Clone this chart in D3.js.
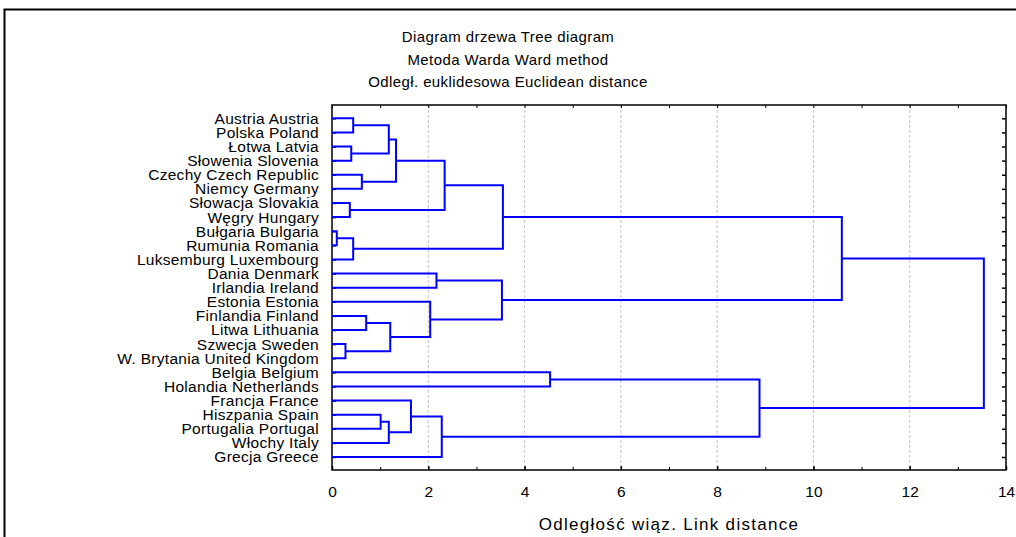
<!DOCTYPE html>
<html>
<head>
<meta charset="utf-8">
<script src="https://cdn.jsdelivr.net/npm/d3@7"></script>
<style>
  body { margin: 0; background: #fff; }
  svg { display: block; font-family: "Liberation Sans", Arial, sans-serif; }
</style>
</head>
<body>
<div class="chart"></div>
<script>
// leaves, top to bottom
var leaves = [
    'Austria Austria', 'Polska Poland', 'Łotwa Latvia', 'Słowenia Slovenia',
    'Czechy Czech Republic', 'Niemcy Germany', 'Słowacja Slovakia', 'Węgry Hungary',
    'Bułgaria Bulgaria', 'Rumunia Romania', 'Luksemburg Luxembourg', 'Dania Denmark',
    'Irlandia Ireland', 'Estonia Estonia', 'Finlandia Finland', 'Litwa Lithuania',
    'Szwecja Sweden', 'W. Brytania United Kingdom', 'Belgia Belgium', 'Holandia Netherlands',
    'Francja France', 'Hiszpania Spain', 'Portugalia Portugal', 'Włochy Italy', 'Grecja Greece'
];

// linkage: cluster 25 + i joins mergeA[i] and mergeB[i] at mergeHeight[i]
var mergeA = [8, 16, 6, 2, 0, 25, 4, 14, 21, 29, 33, 32, 34, 20, 13, 11, 38, 37, 40, 42, 18, 45, 44, 47];
var mergeB = [9, 17, 7, 3, 1, 10, 5, 15, 22, 28, 23, 26, 31, 35, 36, 12, 24, 27, 39, 30, 19, 41, 43, 46];
var mergeHeight = [0.10, 0.28, 0.37, 0.40, 0.44, 0.44, 0.62, 0.71, 1.01, 1.18, 1.18, 1.21, 1.33,
    1.64, 2.04, 2.17, 2.28, 2.34, 3.53, 3.55, 4.53, 8.88, 10.59, 13.54];

var titleLines = ['Diagram drzewa Tree diagram', 'Metoda Warda Ward method', 'Odległ. euklidesowa Euclidean distance'];
var xTicks = [0, 2, 4, 6, 8, 10, 12, 14];
var xMinorTicks = d3.range(0, 15, 1);
var xLabel = 'Odległość wiąz. Link distance';

var svgWidth = 1016;
var svgHeight = 537;
var plotLeft = 332, plotRight = 1006, plotTop = 105, plotBottom = 470;
var fontFamily = '"Liberation Sans", Arial, sans-serif';

var svg = d3.select('.chart').append('svg')
    .attr('width', svgWidth).attr('height', svgHeight);

// outer frame
svg.append('rect')
    .attr('x', 4.5).attr('y', 9.5)
    .attr('width', 1030).attr('height', 560)
    .attr('fill', 'none').attr('stroke', '#000').attr('stroke-width', 2);

svg.selectAll('text.title')
    .data(titleLines)
    .enter()
    .append('text')
    .attr('class', 'title')
    .attr('x', 508)
    .attr('y', function(d, i) { return 42 + i * 22.5; })
    .attr('text-anchor', 'middle')
    .attr('font-size', '15px')
    .attr('letter-spacing', '0.4px')
    .attr('fill', '#000')
    .text(function(d) { return d; });

var x = d3.scaleLinear().domain([0, 14]).range([plotLeft, plotRight]);
var y = d3.scalePoint().domain(d3.range(leaves.length)).range([118.3, 457]);

// grid
svg.selectAll('line.grid')
    .data(xTicks.slice(1, -1))
    .enter()
    .append('line')
    .attr('x1', function(d) { return x(d); })
    .attr('x2', function(d) { return x(d); })
    .attr('y1', plotTop).attr('y2', plotBottom)
    .attr('stroke', '#c4c4c4')
    .attr('stroke-width', 1)
    .attr('stroke-dasharray', '3,2');

// bottom axis
var gx = svg.append('g')
    .attr('transform', 'translate(0,' + plotBottom + ')')
    .call(d3.axisBottom(x).tickValues(xTicks).tickSize(-4).tickPadding(16));
gx.select('.domain').remove();
gx.selectAll('text').attr('font-size', '15.5px').attr('font-family', fontFamily);
gx.selectAll('line').attr('stroke-width', 1.5);
svg.append('g')
    .attr('transform', 'translate(0,' + plotBottom + ')')
    .call(d3.axisBottom(x).tickValues(xMinorTicks).tickSize(-3).tickFormat(''))
    .select('.domain').remove();

// top axis
var gt = svg.append('g')
    .attr('transform', 'translate(0,' + plotTop + ')')
    .call(d3.axisTop(x).tickValues(xMinorTicks).tickSize(-3).tickFormat(''));
gt.select('.domain').remove();

// left axis with leaf labels
var gl = svg.append('g')
    .attr('transform', 'translate(' + plotLeft + ',0)')
    .call(d3.axisLeft(y).tickSize(-4).tickPadding(13).tickFormat(function(i) { return leaves[i]; }));
gl.select('.domain').remove();
gl.selectAll('line').attr('stroke-width', 1.5);
gl.selectAll('text')
    .attr('font-size', '15.5px')
    .attr('letter-spacing', '0.3px')
    .attr('font-family', fontFamily)
    .attr('fill', '#000');

// right axis
var gr = svg.append('g')
    .attr('transform', 'translate(' + plotRight + ',0)')
    .call(d3.axisRight(y).tickSize(-4).tickFormat(''));
gr.select('.domain').remove();
gr.selectAll('line').attr('stroke-width', 1.5);

// plot frame
svg.append('rect')
    .attr('x', plotLeft).attr('y', plotTop)
    .attr('width', plotRight - plotLeft).attr('height', plotBottom - plotTop)
    .attr('fill', 'none').attr('stroke', '#000').attr('stroke-width', 1.5);

// dendrogram
var nodeY = leaves.map(function(d, i) { return y(i); });
var nodeH = leaves.map(function() { return 0; });
var links = [];
mergeHeight.forEach(function(h, i) {
    var a = mergeA[i], b = mergeB[i];
    links.push({ a: a, b: b, h: h });
    nodeY.push((nodeY[a] + nodeY[b]) / 2);
    nodeH.push(h);
});

svg.selectAll('path.link')
    .data(links)
    .enter()
    .append('path')
    .attr('class', 'link')
    .attr('d', function(d) {
        return 'M' + x(nodeH[d.a]) + ',' + nodeY[d.a] +
            'H' + x(d.h) + 'V' + nodeY[d.b] + 'H' + x(nodeH[d.b]);
    })
    .attr('fill', 'none')
    .attr('stroke', '#0000ff')
    .attr('stroke-width', 2);

svg.append('text')
    .attr('x', (plotLeft + plotRight) / 2)
    .attr('y', 530)
    .attr('text-anchor', 'middle')
    .attr('font-size', '17px')
    .attr('letter-spacing', '1.3px')
    .attr('fill', '#000')
    .text(xLabel);
</script>
</body>
</html>
